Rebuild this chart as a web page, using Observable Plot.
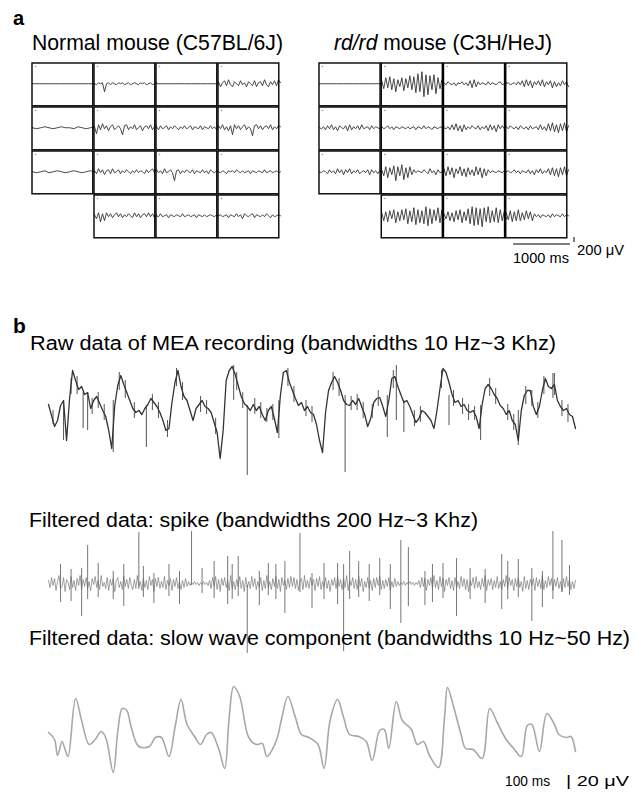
<!DOCTYPE html>
<html><head><meta charset="utf-8">
<script src="https://cdn.jsdelivr.net/npm/d3@7"></script>
<script src="https://cdn.jsdelivr.net/npm/@observablehq/plot@0.6"></script>
<style>
html,body{margin:0;padding:0;background:#fff}
#fig{position:relative;width:637px;height:794px;overflow:hidden;font-family:"Liberation Sans",Arial,Helvetica,sans-serif;background:#fff}
</style></head><body><div id="fig"></div>
<script>
// ---------------- DATA ----------------
// Panel a: MEA grid excerpts, values in display units (≈30 µV each), positive = up
const normalTraces = [
  {row:0,col:0,v:[0,0,0,0,0,0,0,0,0,0,0,0]},
  {row:0,col:1,v:[0,-1,1,0,1,-8,0,1,-1,1,0,-1,1,0,1,-1,0,1,-1,0,1,0,-1,1,0,1,-1,0,1,-1,0,1]},
  {row:0,col:2,v:[0,0,0,0,0,0,0,0,0,0,0,0]},
  {row:0,col:3,v:[2,-3,1,3,-2,4,-1,-3,2,0,-2,3,-1,1,-3,2,0,-2,3,-3,1,2,-2,4,-1,-3,2,-1,3,-2,4,1]},
  {row:1,col:0,v:[0,-1,0,1,0,-1,0,1,0,0,-1,1,0,-1,0,1]},
  {row:1,col:1,v:[1,-6,3,-2,4,-1,2,-3,1,3,-2,0,2,-1,-7,2,3,-2,1,-1,3,-2,0,2,-3,1,2,-1,3,-2,1,2]},
  {row:1,col:2,v:[1,-2,2,-1,0,2,-2,1,-1,2,0,-2,1,-1,2,-1,0,2,-2,1,0,-1,2,-2,1,0,-1,2,-1,1,-2,1]},
  {row:1,col:3,v:[2,-1,3,-2,1,-3,2,-7,3,-1,2,-2,1,3,-2,1,-1,-8,2,3,-1,2,-2,1,2,-1,3,-2,1,-1,2,1]},
  {row:2,col:0,v:[0,-1,0,1,-1,0,1,0,-1,0,1,0,-1,0,1,0]},
  {row:2,col:1,v:[1,-2,3,-1,2,-3,1,2,-2,3,-1,0,2,-2,1,-1,2,0,-2,1,-1,2,-1,1,0,-2,2,-1,1,3,-1,2]},
  {row:2,col:2,v:[2,-1,1,-2,3,-1,0,2,-1,-9,1,2,-2,1,-1,2,0,-1,2,-2,1,0,-1,2,-1,1,-2,2,0,-1,1,0]},
  {row:2,col:3,v:[0,-1,1,0,-2,1,0,1,-1,2,0,-1,1,-1,0,1,-2,1,0,-1,1,0,-1,2,-1,0,1,-1,0,1,-1,0]},
  {row:3,col:1,v:[1,-3,3,-6,2,-5,3,-1,2,-2,1,3,-1,2,-2,1,-1,2,0,-2,3,-1,2,-2,1,2,-1,3,-1,2,-2,1]},
  {row:3,col:2,v:[0,-1,2,-1,0,1,-2,1,0,-1,1,0,-1,2,-1,0,1,-1,0,1,-2,1,0,-1,1,-1,0,1,0,-1,1,0]},
  {row:3,col:3,v:[0,1,-1,0,1,-2,1,0,-1,2,-1,1,-3,2,0,-1,1,2,-2,1,0,-1,1,-1,2,0,-2,1,-1,0,1,0]}
];
const rdTraces = [
  {row:0,col:0,v:[0,0,0,0,0,0,0,0,0,0,0,0]},
  {row:0,col:1,v:[3,-5,6,-4,7,-6,5,-8,4,-3,6,-7,5,-4,8,-6,7,-9,10,-8,12,-13,9,-11,8,-6,9,-10,6,-5,4,-2]},
  {row:0,col:2,v:[1,-1,2,0,-1,1,-2,1,0,2,-1,1,-2,3,-4,4,-3,2,-1,1,0,-1,2,-1,1,0,-1,1,2,-1,0,1]},
  {row:0,col:3,v:[0,1,-1,0,1,-1,2,-1,3,-3,4,-2,3,-4,2,-1,3,-2,4,-3,2,-1,3,-4,2,-3,1,-2,3,-1,2,-3]},
  {row:1,col:0,v:[0,-1,1,-2,2,-1,3,-2,1,-3,2,0,-1,2,-3,3,-2,1,-1,2,-2,3,-1,0,1,-2,2,-1,1,0,-1,1]},
  {row:1,col:1,v:[1,-1,0,2,-1,1,-2,1,0,-1,1,0,-1,1,-1,0,1,-2,1,0,-1,2,-1,1,0,-2,1,0,-1,1,0,1]},
  {row:1,col:2,v:[0,-1,1,-2,3,-2,4,-3,2,-4,3,-2,1,-1,2,0,-1,2,-2,1,-1,2,-3,3,-2,2,-4,3,-1,2,-1,1]},
  {row:1,col:3,v:[1,-1,2,0,-1,1,-2,2,0,-1,1,-2,2,-1,0,1,-2,3,-2,1,-3,4,-3,5,-4,3,-5,4,-3,5,-4,2]},
  {row:2,col:0,v:[0,-1,1,0,-2,2,-1,1,-2,3,-1,2,-3,2,-1,3,-2,1,-1,2,-2,0,1,-1,2,-3,2,-1,1,-2,1,0]},
  {row:2,col:1,v:[2,-4,5,-6,4,-3,6,-9,5,-4,7,-8,4,-6,5,-3,2,-1,1,0,-1,2,0,-2,3,-1,1,-3,2,-1,0,1]},
  {row:2,col:2,v:[3,-4,5,-3,4,-6,3,-2,5,-4,3,-5,4,-3,2,-4,5,-3,4,-6,3,-4,2,-1,1,0,-1,1,0,-1,1,0]},
  {row:2,col:3,v:[0,1,-1,0,2,-1,1,-2,1,0,-1,2,-2,1,-3,2,-1,3,-2,1,-1,3,-3,4,-4,3,-5,4,-3,5,-4,2]},
  {row:3,col:1,v:[3,-5,4,-6,5,-3,6,-7,4,-5,6,-4,7,-8,5,-6,8,-9,6,-7,5,-8,9,-10,7,-8,6,-5,8,-7,6,-4]},
  {row:3,col:2,v:[2,-3,4,-5,3,-6,5,-4,6,-7,4,-5,7,-8,9,-10,8,-9,7,-11,8,-6,9,-7,5,-6,8,-7,6,-5,4,-3]},
  {row:3,col:3,v:[3,-4,5,-6,4,-5,6,-5,3,-4,5,-3,4,-5,2,-1,1,-2,1,0,-1,1,-2,2,-1,1,0,-1,2,-1,1,0]}
];

// Panel b: raw trace, samples every 2 ms (µV, positive = up)
const rawUV = [
  4,-7,-18,-12,3,8,-32,10,38,28,19,22,14,16,0,8,
  12,5,-2,-8,-22,-40,3,23,33,24,16,8,0,-4,-2,-6,
  0,4,10,6,2,-4,-12,-22,-20,6,26,38,22,12,8,-2,
  -12,0,4,8,2,0,-4,-14,-24,-50,-22,28,38,42,34,23,
  12,5,2,-2,4,-2,2,-6,-12,-2,2,-10,-24,13,36,38,
  26,18,10,3,6,-2,2,-4,-6,-16,-32,-44,-4,18,26,32,
  26,18,8,4,3,8,4,10,2,-6,-18,-10,6,10,11,2,
  -8,8,30,32,22,14,6,8,2,-6,-14,-10,-2,-4,-8,-12,
  -20,-2,20,40,36,26,14,6,8,2,4,-2,-4,-2,-8,-20,
  4,20,24,20,14,10,3,0,-6,-2,-12,-16,-32,-2,13,18,
  18,2,-6,2,18,30,22,20,24,8,2,-2,0,-6,-8,-20
];
// fast transients riding on the raw trace: [ms, low µV, high µV]
const rawSpikes = [
  [10,-32,8],[23,-20,16],[26,-22,16],[43,-44,8],[65,-39,3],[79,-29,-12],[123,8,43],
  [132,-67,3],[153,-30,8],[197,-64,13],[225,-29,13],[231,-12,43],[236,-24,8],
  [266,-17,13],[287,-32,3],[312,-37,-2],[335,10,35],[336,13,35],
  [3,-16,-2],[15,14,30],[19,14,32],[29,-6,10],[33,0,16],[37,-12,4],[47,18,36],[51,10,28],
  [57,-10,6],[69,-2,14],[73,-10,6],[85,22,40],[89,8,26],[101,-4,12],[105,-6,8],[111,-26,-10],
  [125,18,36],[129,0,16],[137,-6,10],[141,-10,6],[145,-14,0],[149,-12,4],[159,22,40],[163,6,22],
  [171,-8,8],[175,-14,2],[189,18,36],[193,12,30],[201,-2,12],[205,-2,14],[209,-10,6],[215,-10,4],
  [219,2,18],[229,20,38],[243,-18,-2],[247,-14,2],[261,20,38],[269,2,18],[275,-6,10],[279,-12,4],
  [283,-12,2],[293,12,30],[297,4,20],[305,-12,4],[309,-22,-6],[317,4,22],[321,2,18],[325,-10,6],
  [329,14,32],[341,-8,8],[345,-14,4]
];
// spike-band trace, samples every 1 ms
const spikeUV = [
  3,-4,6,-2,5,-7,2,8,-5,-3,6,-8,4,1,-6,7,-4,3,-7,5,-2,8,-6,4,-3,6,-5,
  2,-7,5,-1,7,-4,3,-6,8,-3,1,-5,6,-7,4,-2,5,-8,3,6,-4,2,-6,7,-3,4,-5,
  6,-2,-6,4,-5,8,-3,2,-7,5,-4,3,-6,7,-2,4,-8,5,-3,6,-5,2,-4,7,-6,3,-2,
  5,-7,4,-3,6,-5,2,-6,3,-4,5,-3,2,-2,1,-1,2,-1,1,-2,1,-1,2,-1,1,-2,3,
  -5,6,-3,7,-6,4,-8,5,-2,6,-4,3,-7,8,-5,2,-6,4,-3,7,-5,3,-8,6,-4,2,-5,
  7,-3,5,-6,2,-4,6,-7,3,-5,8,-4,2,-6,5,-3,7,-5,4,-8,6,-2,3,-6,5,-4,7,
  -3,6,-5,4,-7,2,5,-6,8,-4,3,-5,6,-2,4,-7,5,-3,7,-6,2,-4,6,-5,3,-8,4,
  -2,6,-5,7,-3,4,-6,5,-4,8,-7,3,-2,6,-5,4,-6,7,-3,5,-8,2,-4,6,-5,3,-7,
  5,-4,6,-2,7,-6,3,-5,4,-3,6,-7,2,-4,5,-3,2,-2,1,-1,2,-2,1,-1,2,-1,1,
  -2,1,-1,3,-4,6,-3,5,-7,4,-2,6,-5,8,-4,3,-6,7,-3,5,-8,4,-2,6,-5,3,-7,
  6,-4,2,-5,7,-3,5,-6,4,-8,3,-2,6,-5,7,-4,2,-6,5,-3,8,-7,4,-2,5,-6,3,
  -4,7,-5,2,-6,4,-3,8,-5,6,-2,4,-7,5,-3,6,-4,2,-8,7,-5,3,-6,4,-2,5,-7,
  6,-3,4,-5,8,-6,3,-4,7,-2,5,-7,4,-3,6,-5,2,-8,5,-4,7,-3,4,-6,2,-5,3
];
// detected spikes: [ms, low µV, high µV]
const spikeEvents = [
  [8,-19,19],[22,-33,15],[26,-16,38],[43,-16,12],[50,-23,19],[60,-6,51],[63,-14,17],
  [80,-13,19],[87,-21,12],[95,-2,52],[119,-21,27],[122,-16,19],[126,-13,27],[132,-70,-2],
  [151,-16,19],[157,-30,22],[167,-9,50],[183,-16,20],[192,-21,20],[196,-68,19],[200,-16,32],
  [213,-18,19],[227,-26,19],[234,-40,43],[239,-23,36],[255,-19,19],[271,-33,25],[280,-16,15],
  [301,-26,29],[305,-16,22],[321,-38,15],[335,-16,52],[341,-9,43],
  [15,-18,14],[33,-14,20],[70,-20,10],[102,-10,15],[110,-15,22],[140,-22,12],[146,-12,20],
  [175,-25,10],[206,-14,22],[220,-12,25],[250,-22,12],[262,-15,20],[290,-20,14],[312,-14,24],
  [328,-24,12],[346,-12,18]
];
// slow-wave trace: sample times (ms) and values (µV)
const slowT = [0,4,6,9,11,13,18,22,27,31,35,38,43,46,49,52,55,60,67,71,75,80,84,88,92,97,101,105,108,113,117,120,123,127,133,138,142,145,149,152,155,159,164,168,173,179,183,187,192,196,200,206,211,215,220,223,226,231,235,241,245,249,253,259,263,265,269,274,277,282,288,293,298,304,309,314,318,321,326,331,336,339,344,347,350];
const slowUV = [8,1,-15,-1,-9,-16,42,20,-4,1,9,3,-32,9,32,30,13,-6,-6,3,3,-16,13,41,16,4,-4,6,8,-8,-28,23,54,44,3,-4,-3,-16,-8,3,23,44,23,6,3,-4,-28,20,41,23,6,4,-1,-20,10,11,-8,39,20,11,-4,-1,-15,-27,23,53,34,6,-8,-9,-18,32,18,1,-8,-16,15,16,-11,27,16,6,3,4,-11];

const titles = {
  a: "a", b: "b",
  normal: "Normal mouse (C57BL/6J)",
  rdItalic: "rd/rd", rdRest: " mouse (C3H/HeJ)",
  raw: "Raw data of MEA recording (bandwidths 10 Hz~3 Khz)",
  spike: "Filtered data: spike (bandwidths 200 Hz~3 Khz)",
  slow: "Filtered data: slow wave component (bandwidths 10 Hz~50 Hz)",
  barA_t: "1000 ms", barA_v: "200 \u03bcV",
  barB_t: "100 ms", barB_v: "| 20 \u03bcV"
};

// ---------------- DRAWING ----------------
const fig = document.getElementById("fig");
function place(el, left, top) {
  el.style.position = "absolute";
  el.style.left = left + "px";
  el.style.top = top + "px";
  el.style.background = "transparent";
  el.style.overflow = "visible";
  fig.appendChild(el);
}

const CELL_PX = 44, BASE = 0.46;
function gridPlot(traces, width) {
  const pts = traces.flatMap(c => c.v.map((v, i) => ({key: c.row + "-" + c.col, col: c.col, row: c.row, i, n: c.v.length, v})));
  return Plot.plot({
    width, height: 178, margin: 1,
    x: {domain: [0, 4], axis: null},
    y: {domain: [0, 4], reverse: true, axis: null},
    marks: [
      Plot.line(pts, {x: d => d.col + d.i / (d.n - 1), y: d => d.row + BASE - d.v / CELL_PX, z: "key",
        stroke: "#333", strokeWidth: 0.9}),
      Plot.rect(traces, {x1: "col", x2: d => d.col + 1, y1: "row", y2: d => d.row + 1,
        fill: "none", stroke: "#000", strokeWidth: 1.4, insetRight: 1.2, insetBottom: 1.2}),
      Plot.dot(traces, {x: "col", y: "row", dx: 3, dy: 3, r: 0.8, fill: "#999", stroke: "none"})
    ]
  });
}
place(gridPlot(normalTraces, 250), 31, 62);
place(gridPlot(rdTraces, 251), 318, 62);

function series(arr, step) { return arr.map((v, i) => ({t: i * step, v})); }
function evts(arr) { return arr.map(([t, lo, hi]) => ({t, lo, hi})); }
const X = {domain: [0, 350], axis: null};

place(Plot.plot({
  width: 529, height: 125, marginLeft: 1, marginRight: 1, marginTop: 0, marginBottom: 0,
  x: X, y: {domain: [-72, 53], axis: null},
  marks: [
    Plot.ruleX(evts(rawSpikes), {x: "t", y1: "lo", y2: "hi", stroke: "#555", strokeWidth: 1}),
    Plot.line(series(rawUV, 2), {x: "t", y: "v", stroke: "#333", strokeWidth: 1.3})
  ]
}), 47, 355);

place(Plot.plot({
  width: 529, height: 135, marginLeft: 1, marginRight: 1, marginTop: 0, marginBottom: 0,
  x: X, y: {domain: [-77, 58], axis: null},
  marks: [
    Plot.line(series(spikeUV, 1), {x: "t", y: "v", stroke: "#7a7a7a", strokeWidth: 0.7}),
    Plot.ruleX(evts(spikeEvents), {x: "t", y1: "lo", y2: "hi", stroke: "#666", strokeWidth: 0.9})
  ]
}), 47, 525);

place(Plot.plot({
  width: 529, height: 100, marginLeft: 1, marginRight: 1, marginTop: 0, marginBottom: 0,
  x: X, y: {domain: [-35, 65], axis: null},
  marks: [
    Plot.line(slowT.map((t, i) => ({t, v: slowUV[i]})), {x: "t", y: "v", curve: "catmull-rom", stroke: "#a8a8a8", strokeWidth: 1.6})
  ]
}), 47, 675);

// ---------------- TEXT & SCALE BARS ----------------
const svg = d3.select(fig).append("svg").attr("width", 637).attr("height", 794)
  .style("position", "absolute").style("left", "0px").style("top", "0px")
  .attr("font-family", "'Liberation Sans', Arial, Helvetica, sans-serif").attr("fill", "#000");
function label(txt, x, y, size, len, bold) {
  const t = svg.append("text").attr("x", x).attr("y", y).attr("font-size", size).text(txt);
  if (bold) t.attr("font-weight", "bold");
  if (len) t.attr("textLength", len).attr("lengthAdjust", "spacingAndGlyphs");
  return t;
}
label(titles.a, 13, 25, 20, null, true);
label(titles.normal, 32, 50, 22, 251);
const rd = svg.append("text").attr("x", 334).attr("y", 50).attr("font-size", 22).attr("textLength", 218).attr("lengthAdjust", "spacingAndGlyphs");
rd.append("tspan").attr("font-style", "italic").text(titles.rdItalic);
rd.append("tspan").text(titles.rdRest);
svg.append("line").attr("x1", 513).attr("x2", 570).attr("y1", 244).attr("y2", 244).attr("stroke", "#000").attr("stroke-width", 1);
svg.append("line").attr("x1", 574).attr("x2", 574).attr("y1", 237).attr("y2", 242).attr("stroke", "#000").attr("stroke-width", 1);
label(titles.barA_t, 513, 263, 15, 56);
label(titles.barA_v, 577, 255, 15.5, 47);
label(titles.b, 13, 333, 21, null, true);
label(titles.raw, 30, 350, 19.5, 526);
label(titles.spike, 29, 527, 19.5, 449);
label(titles.slow, 29, 645, 19.5, 601);
label(titles.barB_t, 505, 786, 15, 45);
label(titles.barB_v, 566, 786, 15, 63);
</script></body></html>
